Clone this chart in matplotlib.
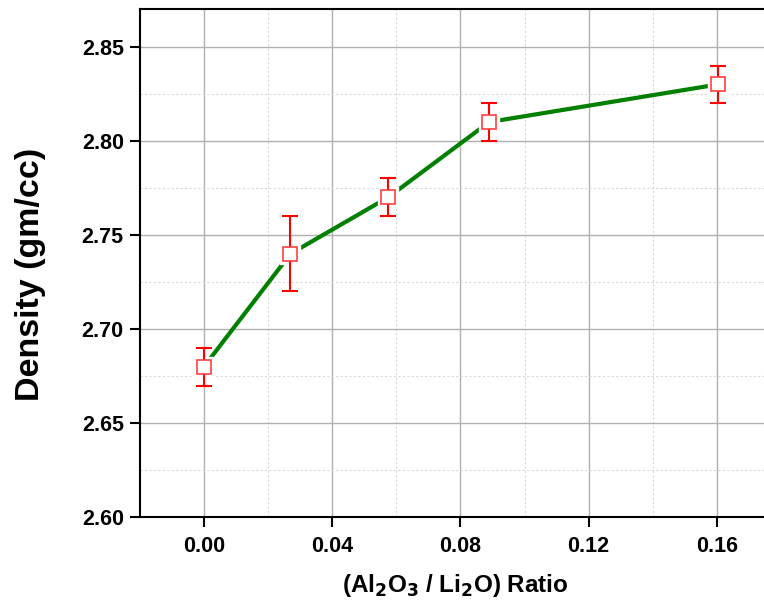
import matplotlib.pyplot as plt
from matplotlib.ticker import MultipleLocator

ratio = [0.0, 0.027, 0.0575, 0.089, 0.1605]
density = [2.68, 2.74, 2.77, 2.81, 2.83]
density_err = [0.01, 0.02, 0.01, 0.01, 0.01]
xtick_vals = [0.0, 0.04, 0.08, 0.12, 0.16]
xtick_text = ['0.00', '0.04', '0.08', '0.12', '0.16']
ytick_vals = [2.60, 2.65, 2.70, 2.75, 2.80, 2.85]
ytick_text = ['2.60', '2.65', '2.70', '2.75', '2.80', '2.85']

plt.rcParams['font.family'] = 'Liberation Sans'
plt.rcParams['font.weight'] = 'bold'

fig = plt.figure(figsize=(7.64, 6.05), dpi=100)
ax = fig.add_axes([0.183, 0.145, 0.817, 0.84])

# line first, then a white halo so the line stops short of the markers
ax.plot(ratio, density, color='#008000', linewidth=3, zorder=2)
ax.plot(ratio, density, linestyle='none', marker='s', markersize=14,
        markerfacecolor='white', markeredgecolor='white', zorder=3)
ax.errorbar(ratio, density, yerr=density_err, fmt='none', ecolor='red',
            elinewidth=1.5, capsize=6, capthick=1.5, zorder=4)
ax.plot(ratio, density, linestyle='none', marker='s', markersize=10,
        markerfacecolor='white', markeredgecolor='#ff4040', markeredgewidth=1.2, zorder=5)

ax.set_xlim(-0.02, 0.1747)
ax.set_ylim(2.60, 2.87)
ax.xaxis.set_minor_locator(MultipleLocator(0.02))
ax.yaxis.set_minor_locator(MultipleLocator(0.025))
ax.set_xticks(xtick_vals)
ax.set_xticklabels(xtick_text)
ax.set_yticks(ytick_vals)
ax.set_yticklabels(ytick_text)

ax.grid(True, which='major', color='#b0b0b0', linewidth=1.0, zorder=0)
ax.grid(True, which='minor', color='#d8d8d8', linestyle=(0, (2, 2)), linewidth=0.8, zorder=0)
ax.set_axisbelow(True)

ax.tick_params(which='major', direction='out', length=7.5, width=1.5, labelsize=15.5)
ax.tick_params(axis='x', pad=6)
ax.tick_params(axis='y', pad=4)
ax.tick_params(which='minor', length=0)
for s in ['left', 'bottom', 'top']:
    ax.spines[s].set_linewidth(1.5)
ax.spines['right'].set_visible(False)

ax.set_xlabel('(Al$_\\mathbf{2}$O$_\\mathbf{3}$ / Li$_\\mathbf{2}$O) Ratio', fontsize=17.5, fontweight='bold')
ax.xaxis.set_label_coords(0.506, -0.108)
ax.set_ylabel('Density (gm/cc)', fontsize=24.5, fontweight='bold')
ax.yaxis.set_label_coords(-0.15, 0.478)

plt.savefig('out.png', dpi=100)
